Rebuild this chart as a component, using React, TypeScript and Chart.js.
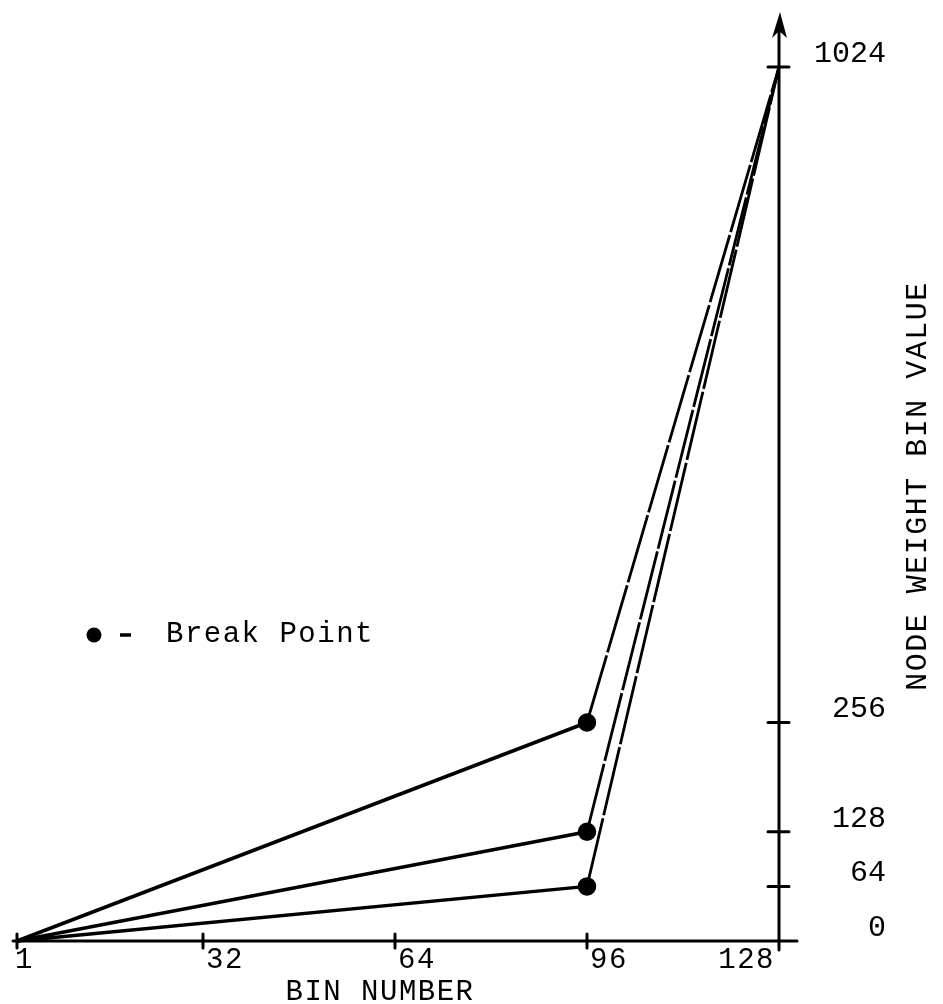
import React, { useEffect, useRef } from "react";
import { Chart, registerables } from "chart.js";

Chart.register(...registerables);

// ---- data ----
const BIN_NUMBERS = [1, 96, 128];
const SERIES_HIGH = [0, 256, 1024];
const SERIES_MID = [0, 128, 1024];
const SERIES_LOW = [0, 64, 1024];
const BREAK_INDEX = 1;

const X_TICKS = [1, 32, 64, 96, 128];
const Y_TICKS = [0, 64, 128, 256, 1024];

const X_TITLE = "BIN NUMBER";
const Y_TITLE = "NODE WEIGHT BIN VALUE";
const LEGEND_LABEL = "Break Point";

const FONT = "'Liberation Mono', 'DejaVu Sans Mono', monospace";
const INK = "#000";

function makeDataset(values: number[]) {
  return {
    data: BIN_NUMBERS.map((x, i) => ({ x, y: values[i] })),
    borderColor: INK,
    backgroundColor: INK,
    borderWidth: 3.5,
    tension: 0,
    clip: false as any,
    pointRadius: BIN_NUMBERS.map((_, i) => (i === BREAK_INDEX ? 7.5 : 0)),
    pointHoverRadius: 0,
    pointBackgroundColor: INK,
    pointBorderColor: INK,
    segment: {
      borderDash: (ctx: any) => (ctx.p0DataIndex >= BREAK_INDEX ? [70, 3] : undefined),
      borderWidth: (ctx: any) => (ctx.p0DataIndex >= BREAK_INDEX ? 2.8 : 3.5),
    },
  };
}

const axesPlugin = {
  id: "typewriterAxes",
  beforeDatasetsDraw(chart: any) {
    const { ctx, scales } = chart;
    const xs = scales.x;
    const ys = scales.y;
    const y0 = ys.getPixelForValue(0);
    const xa = xs.getPixelForValue(X_TICKS[X_TICKS.length - 1]);
    ctx.save();
    ctx.strokeStyle = INK;
    ctx.fillStyle = INK;
    ctx.lineWidth = 3;
    ctx.lineCap = "round";
    // x axis line
    ctx.beginPath();
    ctx.moveTo(xs.getPixelForValue(X_TICKS[0]) - 4, y0);
    ctx.lineTo(xa + 18, y0);
    ctx.stroke();
    // y axis line
    ctx.beginPath();
    ctx.moveTo(xa, y0 + 9);
    ctx.lineTo(xa, 30);
    ctx.stroke();
    // arrow head
    ctx.beginPath();
    ctx.moveTo(xa + 1, 12);
    ctx.lineTo(xa + 8, 38);
    ctx.lineTo(xa, 31);
    ctx.lineTo(xa - 7, 38);
    ctx.closePath();
    ctx.fill();
    // y tick marks (crossing the axis)
    Y_TICKS.forEach((v) => {
      if (v === 0) return;
      const py = ys.getPixelForValue(v);
      ctx.beginPath();
      ctx.moveTo(xa - 11, py);
      ctx.lineTo(xa + 10, py);
      ctx.stroke();
    });
    // x tick marks
    X_TICKS.forEach((v, i) => {
      if (i === X_TICKS.length - 1) return;
      const px = xs.getPixelForValue(v);
      ctx.beginPath();
      ctx.moveTo(px, y0 - 7);
      ctx.lineTo(px, y0 + 7);
      ctx.stroke();
    });
    ctx.restore();
  },
  afterDraw(chart: any) {
    const { ctx, scales } = chart;
    const xs = scales.x;
    ctx.save();
    ctx.fillStyle = INK;
    ctx.strokeStyle = INK;
    ctx.font = `29px ${FONT}`;
    (ctx as any).letterSpacing = "1.5px";
    ctx.textBaseline = "alphabetic";
    // x tick labels
    X_TICKS.forEach((v, i) => {
      const px = xs.getPixelForValue(v);
      if (i === X_TICKS.length - 1) {
        ctx.textAlign = "right";
        ctx.fillText(String(v), px - 4, 968);
      } else {
        ctx.textAlign = "left";
        ctx.fillText(String(v), px + (i === 0 ? -2 : 3), 968);
      }
    });
    // x title
    ctx.textAlign = "center";
    ctx.fillText(X_TITLE, 380, 1000);
    // y title (reads bottom to top)
    ctx.save();
    ctx.translate(918, 486);
    ctx.rotate(-Math.PI / 2);
    ctx.textAlign = "center";
    ctx.textBaseline = "middle";
    ctx.font = `30px ${FONT}`;
    ctx.fillText(Y_TITLE, 0, 0);
    ctx.restore();
    // legend
    ctx.beginPath();
    ctx.arc(94, 635, 7.5, 0, Math.PI * 2);
    ctx.fill();
    ctx.lineWidth = 3.5;
    ctx.beginPath();
    ctx.moveTo(120, 635);
    ctx.lineTo(131, 635);
    ctx.stroke();
    ctx.textAlign = "left";
    ctx.textBaseline = "alphabetic";
    ctx.fillText(LEGEND_LABEL, 166, 642);
    ctx.restore();
  },
};

export default function App() {
  const canvasRef = useRef<HTMLCanvasElement | null>(null);

  useEffect(() => {
    if (!canvasRef.current) return;
    const chart = new Chart(canvasRef.current, {
      type: "line",
      data: {
        datasets: [makeDataset(SERIES_HIGH), makeDataset(SERIES_MID), makeDataset(SERIES_LOW)],
      },
      options: {
        animation: false,
        responsive: false,
        events: [],
        layout: { padding: { left: 17, top: 67, bottom: 63, right: 57 } },
        plugins: {
          legend: { display: false },
          tooltip: { enabled: false },
          title: { display: false },
        },
        scales: {
          x: {
            type: "linear",
            min: X_TICKS[0],
            max: X_TICKS[X_TICKS.length - 1],
            display: false,
          },
          y: {
            type: "linear",
            position: "right",
            min: Y_TICKS[0],
            max: Y_TICKS[Y_TICKS.length - 1],
            afterBuildTicks: (scale: any) => {
              scale.ticks = Y_TICKS.map((v) => ({ value: v }));
            },
            afterFit: (scale: any) => {
              scale.width = 107;
            },
            grid: { display: false, drawTicks: false },
            border: { display: false },
            ticks: {
              color: INK,
              font: { family: FONT, size: 30 },
              crossAlign: "far",
              padding: 35,
              labelOffset: -13,
              callback: (v: any) => String(v),
            },
          },
        },
      },
      plugins: [axesPlugin],
    } as any);
    return () => chart.destroy();
  }, []);

  return (
    <div style={{ position: "fixed", left: 0, top: 0, width: 943, height: 1004, background: "#fff" }}>
      <canvas ref={canvasRef} width={943} height={1004} style={{ display: "block" }} />
    </div>
  );
}
